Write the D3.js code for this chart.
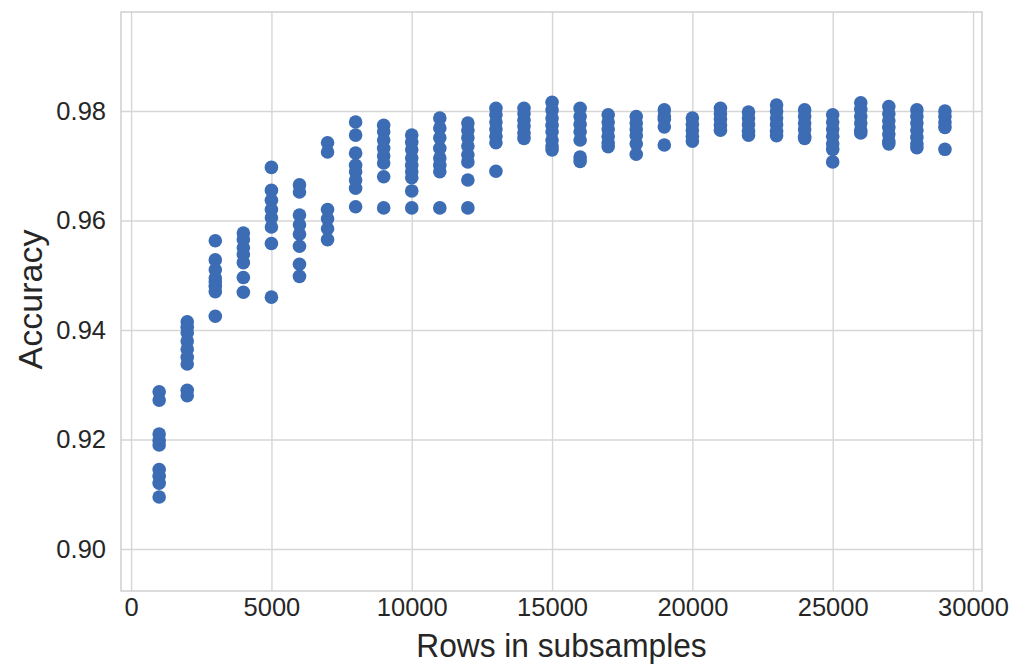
<!DOCTYPE html>
<html>
<head>
<meta charset="utf-8">
<script src="https://cdn.jsdelivr.net/npm/d3@7"></script>
<style>
  body { margin: 0; background: #fff; }
  text { font-family: "Liberation Sans", Arial, sans-serif; fill: #262626; }
  .grid line { stroke: #d6d6d6; stroke-width: 1.4; }
  .grid .domain { display: none; }
</style>
</head>
<body>
<div id="chart"></div>
<script>
// subsample sizes (x) and the accuracies from each run at that size
var rows = [1000, 2000, 3000, 4000, 5000, 6000, 7000, 8000, 9000, 10000,
    11000, 12000, 13000, 14000, 15000, 16000, 17000, 18000, 19000, 20000,
    21000, 22000, 23000, 24000, 25000, 26000, 27000, 28000, 29000];

var accuracy = [
    [0.9287, 0.9272, 0.921, 0.9198, 0.919, 0.9145, 0.9133, 0.912, 0.9095],
    [0.9415, 0.9405, 0.9395, 0.938, 0.9365, 0.935, 0.9338, 0.929, 0.928],
    [0.9563, 0.9528, 0.951, 0.9495, 0.9488, 0.948, 0.947, 0.9425],
    [0.9577, 0.9565, 0.955, 0.9538, 0.9523, 0.9496, 0.9469],
    [0.9697, 0.9655, 0.9637, 0.962, 0.9605, 0.9588, 0.9558, 0.946],
    [0.9665, 0.9652, 0.961, 0.9592, 0.9575, 0.9553, 0.952, 0.9498],
    [0.9742, 0.9725, 0.962, 0.9603, 0.9585, 0.9565],
    [0.978, 0.9756, 0.9723, 0.9701, 0.9689, 0.9674, 0.9659, 0.9625],
    [0.9774, 0.9762, 0.9747, 0.9732, 0.9718, 0.9705, 0.968, 0.9623],
    [0.9756, 0.9743, 0.9729, 0.9714, 0.9701, 0.9689, 0.9678, 0.9654, 0.9623],
    [0.9787, 0.9769, 0.9751, 0.9732, 0.9714, 0.9701, 0.9689, 0.9623],
    [0.9778, 0.9765, 0.9751, 0.9736, 0.972, 0.9707, 0.9674, 0.9623],
    [0.9805, 0.9793, 0.978, 0.9767, 0.9754, 0.9742, 0.969],
    [0.9805, 0.9795, 0.9783, 0.9772, 0.976, 0.975],
    [0.9816, 0.9802, 0.9787, 0.9774, 0.9762, 0.9747, 0.9736, 0.9729],
    [0.9805, 0.979, 0.9776, 0.9762, 0.9747, 0.9716, 0.9708],
    [0.9793, 0.978, 0.9767, 0.9754, 0.9742, 0.9735],
    [0.979, 0.9778, 0.9766, 0.9755, 0.974, 0.9721],
    [0.9802, 0.979, 0.9785, 0.9771, 0.9738],
    [0.9787, 0.9776, 0.9765, 0.9754, 0.9745],
    [0.9805, 0.9795, 0.9785, 0.9774, 0.9765],
    [0.9798, 0.9787, 0.9775, 0.9763, 0.9756],
    [0.9811, 0.9799, 0.9787, 0.9775, 0.9763, 0.9755],
    [0.9802, 0.979, 0.9778, 0.9766, 0.9754, 0.975],
    [0.9793, 0.978, 0.9767, 0.9754, 0.974, 0.973, 0.9707],
    [0.9815, 0.9803, 0.979, 0.9778, 0.9765, 0.976],
    [0.9808, 0.9795, 0.9782, 0.977, 0.9758, 0.9745, 0.974],
    [0.9802, 0.979, 0.9778, 0.9765, 0.9752, 0.974, 0.9733],
    [0.98, 0.979, 0.978, 0.977, 0.973]
];

var xTicks = [0, 5000, 10000, 15000, 20000, 25000, 30000];
var yTicks = [0.90, 0.92, 0.94, 0.96, 0.98];

var svgWidth = 1012;
var svgHeight = 667;

var margin = {
    top: 12,
    right: 30,
    bottom: 76,
    left: 121
};

var width = svgWidth - margin.left - margin.right;
var height = svgHeight - margin.top - margin.bottom;

// flatten to one point per run
var points = [];
rows.forEach(function(r, i) {
    accuracy[i].forEach(function(a) {
        points.push({rows: r, acc: a});
    });
});

var svg = d3.select("#chart")
    .append("svg")
    .attr("width", svgWidth)
    .attr("height", svgHeight);

var chartGroup = svg.append("g")
    .attr("transform", `translate(${margin.left}, ${margin.top})`);

var xScale = d3.scaleLinear()
    .domain([-360, 30320])
    .range([0, width]);

var yScale = d3.scaleLinear()
    .domain([0.89233, 0.99808])
    .range([height, 0]);

// gridlines + tick labels
var xAxis = chartGroup.append("g")
    .attr("class", "grid")
    .attr("transform", `translate(0, ${height})`)
    .call(d3.axisBottom(xScale)
        .tickValues(xTicks)
        .tickSize(-height)
        .tickPadding(7)
        .tickFormat(d3.format("d")));

var yAxis = chartGroup.append("g")
    .attr("class", "grid")
    .call(d3.axisLeft(yScale)
        .tickValues(yTicks)
        .tickSize(-width)
        .tickPadding(15)
        .tickFormat(d3.format(".2f")));

svg.selectAll(".grid text")
    .attr("font-size", "25.5px")
    .style("font-family", "'Liberation Sans', Arial, sans-serif")
    .attr("fill", "#262626");

// frame
chartGroup.append("rect")
    .attr("width", width)
    .attr("height", height)
    .attr("fill", "none")
    .attr("stroke", "#cfcfcf")
    .attr("stroke-width", 1.5);

// points
chartGroup.selectAll("circle")
    .data(points)
    .enter()
    .append("circle")
    .attr("cx", d => xScale(d.rows))
    .attr("cy", d => yScale(d.acc))
    .attr("r", 6.8)
    .attr("fill", "#3b6cb4");

// axis labels
svg.append("text")
    .attr("transform", `translate(${margin.left + width / 2 + 10}, 657) scale(0.96, 1)`)
    .attr("text-anchor", "middle")
    .attr("font-size", "33px")
    .text("Rows in subsamples");

svg.append("text")
    .attr("transform", `translate(42, ${margin.top + height / 2 - 2}) rotate(-90)`)
    .attr("text-anchor", "middle")
    .attr("font-size", "34px")
    .text("Accuracy");
</script>
</body>
</html>
